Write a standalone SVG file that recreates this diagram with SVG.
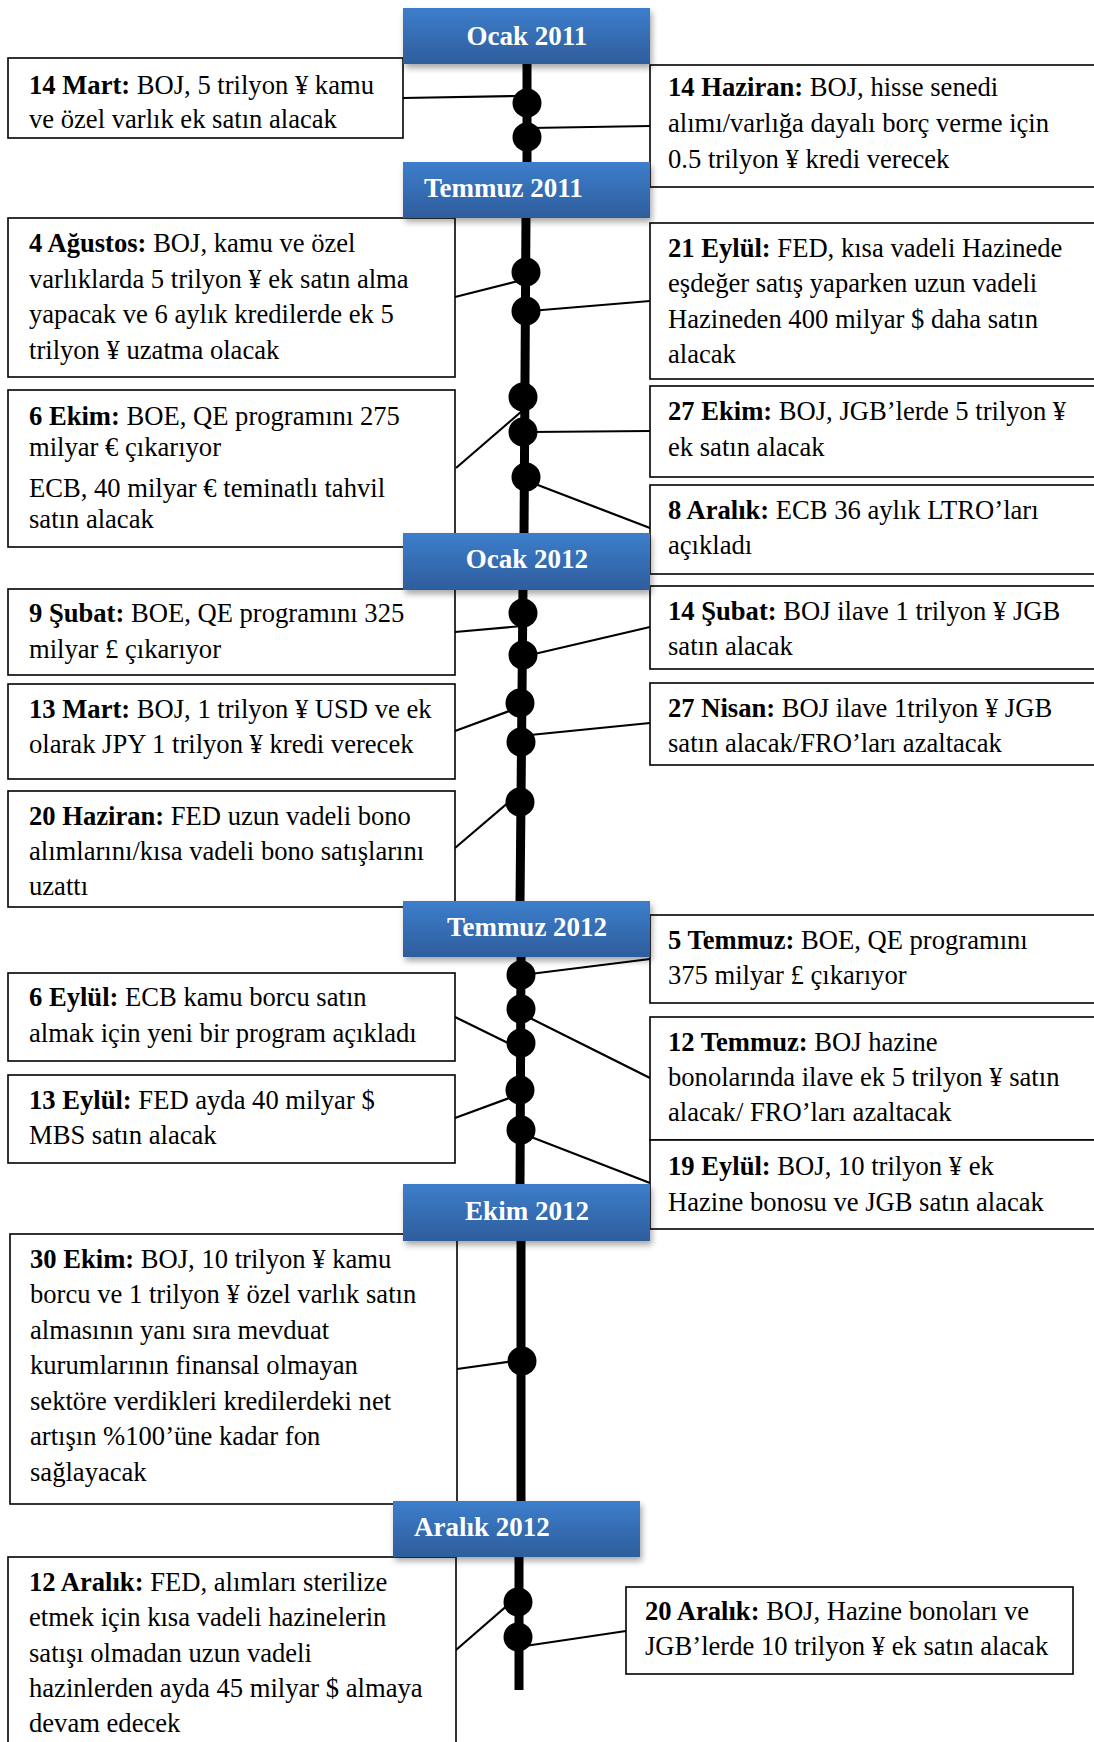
<svg xmlns="http://www.w3.org/2000/svg" width="1094" height="1742" viewBox="0 0 1094 1742">
<defs>
<linearGradient id="mg" x1="0" y1="0" x2="0" y2="1">
<stop offset="0" stop-color="#3d7ecc"/>
<stop offset="1" stop-color="#2e5d9c"/>
</linearGradient>
<filter id="sh" x="-10%" y="-20%" width="125%" height="150%">
<feGaussianBlur in="SourceAlpha" stdDeviation="3"/>
<feOffset dx="2" dy="4" result="b"/>
<feComponentTransfer><feFuncA type="linear" slope="0.35"/></feComponentTransfer>
<feMerge><feMergeNode/><feMergeNode in="SourceGraphic"/></feMerge>
</filter>
</defs>
<style>
text{font-family:"Liberation Serif","Times New Roman",Times,serif}
.box{fill:#fff;stroke:#000;stroke-width:1.6}
.t{font-size:26.6px;fill:#000}
.b{font-weight:bold}
.m rect{fill:url(#mg);filter:url(#sh)}
.m text{font-size:27px;font-weight:bold;fill:#fff}
.tl{stroke:#000;stroke-width:9;fill:none}
.c{stroke:#000;stroke-width:2.2;fill:none}
.d{fill:#000}
</style>
<rect width="1094" height="1742" fill="#fff"/>

<g id="timeline">
<line class="tl" x1="527" y1="60" x2="527" y2="165"/>
<line class="tl" x1="526" y1="215" x2="524" y2="536"/>
<line class="tl" x1="523" y1="588" x2="520" y2="904"/>
<line class="tl" x1="521" y1="955" x2="520" y2="1187"/>
<line class="tl" x1="521" y1="1239" x2="521" y2="1504"/>
<line class="tl" x1="519" y1="1555" x2="519" y2="1690"/>
</g>

<g id="connectors">
<line class="c" x1="403" y1="98" x2="520" y2="96"/>
<line class="c" x1="530" y1="128" x2="650" y2="126"/>
<line class="c" x1="455" y1="297" x2="522" y2="280"/>
<line class="c" x1="530" y1="311" x2="650" y2="301"/>
<line class="c" x1="456" y1="468" x2="522" y2="411"/>
<line class="c" x1="530" y1="432" x2="650" y2="431"/>
<line class="c" x1="530" y1="482" x2="650" y2="528"/>
<line class="c" x1="455" y1="632" x2="522" y2="626"/>
<line class="c" x1="530" y1="655" x2="650" y2="627"/>
<line class="c" x1="455" y1="731" x2="512" y2="710"/>
<line class="c" x1="530" y1="735" x2="650" y2="723"/>
<line class="c" x1="455" y1="848" x2="510" y2="801"/>
<line class="c" x1="530" y1="974" x2="650" y2="959"/>
<line class="c" x1="455" y1="1017" x2="512" y2="1045"/>
<line class="c" x1="526" y1="1016" x2="650" y2="1078"/>
<line class="c" x1="455" y1="1118" x2="512" y2="1097"/>
<line class="c" x1="526" y1="1135" x2="650" y2="1183"/>
<line class="c" x1="457" y1="1369" x2="515" y2="1361"/>
<line class="c" x1="456" y1="1650" x2="510" y2="1603"/>
<line class="c" x1="525" y1="1646" x2="626" y2="1631"/>
</g>

<g id="dots">
<circle class="d" cx="527" cy="103" r="14.5"/>
<circle class="d" cx="527" cy="137" r="14.5"/>
<circle class="d" cx="526" cy="272" r="14.5"/>
<circle class="d" cx="526" cy="311" r="14.5"/>
<circle class="d" cx="523" cy="397" r="14.5"/>
<circle class="d" cx="523" cy="432" r="14.5"/>
<circle class="d" cx="526" cy="477" r="14.5"/>
<circle class="d" cx="523" cy="613" r="14.5"/>
<circle class="d" cx="523" cy="655" r="14.5"/>
<circle class="d" cx="520" cy="703" r="14.5"/>
<circle class="d" cx="521" cy="742" r="14.5"/>
<circle class="d" cx="520" cy="802" r="14.5"/>
<circle class="d" cx="521" cy="975" r="14.5"/>
<circle class="d" cx="521" cy="1009" r="14.5"/>
<circle class="d" cx="521" cy="1043" r="14.5"/>
<circle class="d" cx="520" cy="1090" r="14.5"/>
<circle class="d" cx="521" cy="1130" r="14.5"/>
<circle class="d" cx="522" cy="1361" r="14.5"/>
<circle class="d" cx="518" cy="1602" r="14.5"/>
<circle class="d" cx="518" cy="1637" r="14.5"/>
</g>

<g id="n-14mart"><rect class="box" x="8" y="58" width="395" height="80"/>
<text class="t" x="29" y="94"><tspan class="b">14 Mart:</tspan> BOJ, 5 trilyon ¥ kamu</text>
<text class="t" x="29" y="128">ve özel varlık ek satın alacak</text></g>

<g id="n-14haziran"><rect class="box" x="650" y="65" width="460" height="122"/>
<text class="t" x="668" y="96"><tspan class="b">14 Haziran:</tspan> BOJ, hisse senedi</text>
<text class="t" x="668" y="132">alımı/varlığa dayalı borç verme için</text>
<text class="t" x="668" y="168">0.5 trilyon ¥ kredi verecek</text></g>

<g id="n-4agustos"><rect class="box" x="8" y="218" width="447" height="159"/>
<text class="t" x="29" y="252"><tspan class="b">4 Ağustos:</tspan> BOJ, kamu ve özel</text>
<text class="t" x="29" y="288">varlıklarda 5 trilyon ¥ ek satın alma</text>
<text class="t" x="29" y="323">yapacak ve 6 aylık kredilerde ek 5</text>
<text class="t" x="29" y="359">trilyon ¥ uzatma olacak</text></g>

<g id="n-21eylul"><rect class="box" x="650" y="223" width="460" height="156"/>
<text class="t" x="668" y="257"><tspan class="b">21 Eylül:</tspan> FED, kısa vadeli Hazinede</text>
<text class="t" x="668" y="292">eşdeğer satış yaparken uzun vadeli</text>
<text class="t" x="668" y="328">Hazineden 400 milyar $ daha satın</text>
<text class="t" x="668" y="363">alacak</text></g>

<g id="n-6ekim"><rect class="box" x="8" y="390" width="447" height="157"/>
<text class="t" x="29" y="425"><tspan class="b">6 Ekim:</tspan> BOE, QE programını 275</text>
<text class="t" x="29" y="456">milyar € çıkarıyor</text>
<text class="t" x="29" y="497">ECB, 40 milyar € teminatlı tahvil</text>
<text class="t" x="29" y="528">satın alacak</text></g>

<g id="n-27ekim"><rect class="box" x="650" y="386" width="460" height="91"/>
<text class="t" x="668" y="420"><tspan class="b">27 Ekim:</tspan> BOJ, JGB’lerde 5 trilyon ¥</text>
<text class="t" x="668" y="456">ek satın alacak</text></g>

<g id="n-8aralik"><rect class="box" x="650" y="485" width="460" height="89"/>
<text class="t" x="668" y="519"><tspan class="b">8 Aralık:</tspan> ECB 36 aylık LTRO’ları</text>
<text class="t" x="668" y="554">açıkladı</text></g>

<g id="n-9subat"><rect class="box" x="8" y="589" width="447" height="86"/>
<text class="t" x="29" y="622"><tspan class="b">9 Şubat:</tspan> BOE, QE programını 325</text>
<text class="t" x="29" y="658">milyar £ çıkarıyor</text></g>

<g id="n-14subat"><rect class="box" x="650" y="586" width="460" height="83"/>
<text class="t" x="668" y="620"><tspan class="b">14 Şubat:</tspan> BOJ ilave 1 trilyon ¥ JGB</text>
<text class="t" x="668" y="655">satın alacak</text></g>

<g id="n-13mart"><rect class="box" x="8" y="684" width="447" height="95"/>
<text class="t" x="29" y="718"><tspan class="b">13 Mart:</tspan> BOJ, 1 trilyon ¥ USD ve ek</text>
<text class="t" x="29" y="753">olarak JPY 1 trilyon ¥ kredi verecek</text></g>

<g id="n-27nisan"><rect class="box" x="650" y="683" width="460" height="82"/>
<text class="t" x="668" y="717"><tspan class="b">27 Nisan:</tspan> BOJ ilave 1trilyon ¥ JGB</text>
<text class="t" x="668" y="752">satın alacak/FRO’ları azaltacak</text></g>

<g id="n-20haziran"><rect class="box" x="8" y="791" width="447" height="116"/>
<text class="t" x="29" y="825"><tspan class="b">20 Haziran:</tspan> FED uzun vadeli bono</text>
<text class="t" x="29" y="860">alımlarını/kısa vadeli bono satışlarını</text>
<text class="t" x="29" y="895">uzattı</text></g>

<g id="n-5temmuz"><rect class="box" x="650" y="915" width="460" height="88"/>
<text class="t" x="668" y="949"><tspan class="b">5 Temmuz:</tspan> BOE, QE programını</text>
<text class="t" x="668" y="984">375 milyar £ çıkarıyor</text></g>

<g id="n-6eylul"><rect class="box" x="8" y="973" width="447" height="88"/>
<text class="t" x="29" y="1006"><tspan class="b">6 Eylül:</tspan> ECB kamu borcu satın</text>
<text class="t" x="29" y="1042">almak için yeni bir program açıkladı</text></g>

<g id="n-12temmuz"><rect class="box" x="650" y="1017" width="460" height="123"/>
<text class="t" x="668" y="1051"><tspan class="b">12 Temmuz:</tspan> BOJ hazine</text>
<text class="t" x="668" y="1086">bonolarında ilave ek 5 trilyon ¥ satın</text>
<text class="t" x="668" y="1121">alacak/ FRO’ları azaltacak</text></g>

<g id="n-13eylul"><rect class="box" x="8" y="1075" width="447" height="88"/>
<text class="t" x="29" y="1109"><tspan class="b">13 Eylül:</tspan> FED ayda 40 milyar $</text>
<text class="t" x="29" y="1144">MBS satın alacak</text></g>

<g id="n-19eylul"><rect class="box" x="650" y="1140" width="460" height="89"/>
<text class="t" x="668" y="1175"><tspan class="b">19 Eylül:</tspan> BOJ, 10 trilyon ¥ ek</text>
<text class="t" x="668" y="1211">Hazine bonosu ve JGB satın alacak</text></g>

<g id="n-30ekim"><rect class="box" x="10" y="1234" width="447" height="270"/>
<text class="t" x="30" y="1268"><tspan class="b">30 Ekim:</tspan> BOJ, 10 trilyon ¥ kamu</text>
<text class="t" x="30" y="1303">borcu ve 1 trilyon ¥ özel varlık satın</text>
<text class="t" x="30" y="1339">almasının yanı sıra mevduat</text>
<text class="t" x="30" y="1374">kurumlarının finansal olmayan</text>
<text class="t" x="30" y="1410">sektöre verdikleri kredilerdeki net</text>
<text class="t" x="30" y="1445">artışın %100’üne kadar fon</text>
<text class="t" x="30" y="1481">sağlayacak</text></g>

<g id="n-12aralik"><rect class="box" x="8" y="1557" width="448" height="200"/>
<text class="t" x="29" y="1591"><tspan class="b">12 Aralık:</tspan> FED, alımları sterilize</text>
<text class="t" x="29" y="1626">etmek için kısa vadeli hazinelerin</text>
<text class="t" x="29" y="1662">satışı olmadan uzun vadeli</text>
<text class="t" x="29" y="1697">hazinlerden ayda 45 milyar $ almaya</text>
<text class="t" x="29" y="1732">devam edecek</text></g>

<g id="n-20aralik"><rect class="box" x="626" y="1587" width="447" height="87"/>
<text class="t" x="645" y="1620"><tspan class="b">20 Aralık:</tspan> BOJ, Hazine bonoları ve</text>
<text class="t" x="645" y="1655">JGB’lerde 10 trilyon ¥ ek satın alacak</text></g>

<g id="m-ocak2011" class="m"><rect x="403" y="8" width="247" height="56"/>
<text x="527" y="45" text-anchor="middle">Ocak 2011</text></g>
<g id="m-temmuz2011" class="m"><rect x="403" y="162" width="247" height="56"/>
<text x="424" y="197">Temmuz 2011</text></g>
<g id="m-ocak2012" class="m"><rect x="403" y="533" width="247" height="57"/>
<text x="527" y="568" text-anchor="middle">Ocak 2012</text></g>
<g id="m-temmuz2012" class="m"><rect x="403" y="901" width="247" height="56"/>
<text x="527" y="936" text-anchor="middle">Temmuz 2012</text></g>
<g id="m-ekim2012" class="m"><rect x="403" y="1184" width="247" height="57"/>
<text x="527" y="1220" text-anchor="middle">Ekim 2012</text></g>
<g id="m-aralik2012" class="m"><rect x="393" y="1501" width="247" height="56"/>
<text x="414" y="1536">Aralık 2012</text></g>
</svg>
